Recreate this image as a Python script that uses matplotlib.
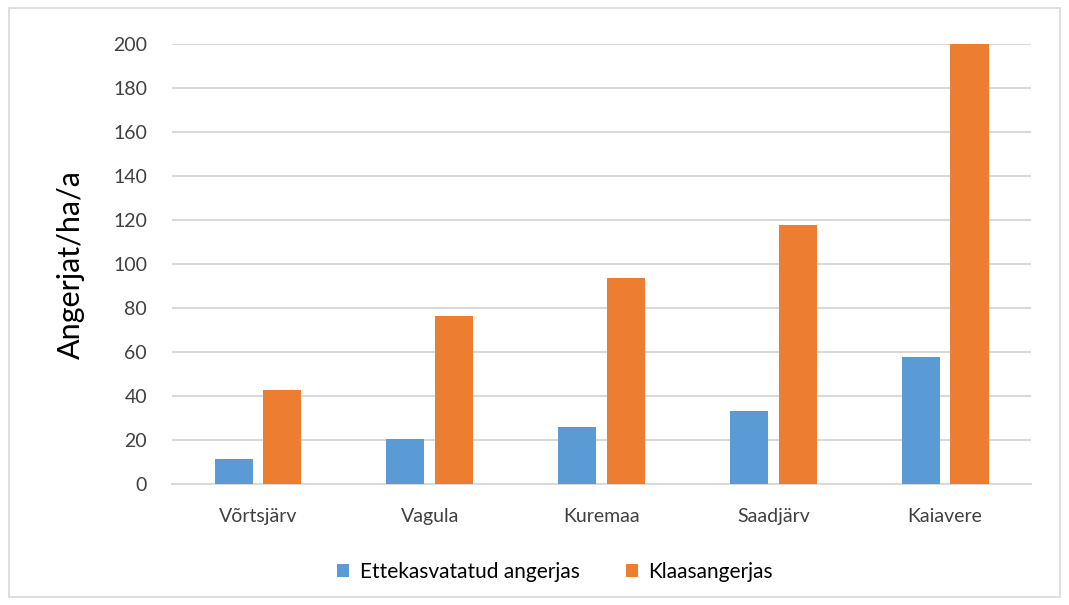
import numpy as np
import matplotlib.pyplot as plt
from matplotlib.patches import Rectangle

# data
lakes = ['Võrtsjärv', 'Vagula', 'Kuremaa', 'Saadjärv', 'Kaiavere']
ettekasvatatud = [11.5, 20.7, 26.2, 33.1, 58]
klaasangerjas = [43, 76.6, 93.8, 118, 200]
yticks = np.arange(0, 201, 20)

plt.rcParams['font.family'] = ['Lato', 'DejaVu Sans']

fig = plt.figure(figsize=(10.69, 6.05), dpi=100)
ax = fig.add_axes([0.161, 0.1995, 0.8035, 0.7273])

# outer chart border
fig.patches.append(Rectangle((9 / 1069, 8 / 605), 1051 / 1069, 589 / 605,
                             transform=fig.transFigure, fill=False,
                             edgecolor='#D9D9D9', linewidth=1.2))

x = np.arange(len(lakes))
w = 0.222
ax.bar(x - 0.142, ettekasvatatud, w, color='#5B9BD5', label='Ettekasvatatud angerjas', zorder=3)
ax.bar(x + 0.142, klaasangerjas, w, color='#ED7D31', label='Klaasangerjas', zorder=3)

ax.set_xlim(-0.5, len(lakes) - 0.5)
ax.set_ylim(0, 200)
ax.set_yticks(yticks)
ax.set_xticks(x)
ax.set_xticklabels(lakes)
ax.tick_params(axis='both', length=0, labelsize=14, colors='#404040')
ax.tick_params(axis='y', pad=18)
ax.tick_params(axis='x', pad=17)
ax.grid(axis='y', color='#D9D9D9', linewidth=1.5, zorder=0)
for s in ['top', 'right', 'left']:
    ax.spines[s].set_visible(False)
ax.spines['bottom'].set_color('#D9D9D9')
ax.spines['bottom'].set_linewidth(1.5)
for p in ax.patches:
    p.set_clip_on(False)

ax.set_ylabel('Angerjat/ha/a', fontsize=22, labelpad=20, color='black')

ax.legend(loc='center', bbox_to_anchor=(555 / 1069, 1 - 572 / 605),
          bbox_transform=fig.transFigure, ncol=2, frameon=False,
          fontsize=15, handlelength=0.6, handleheight=0.6,
          columnspacing=2.2, handletextpad=0.5)

fig.savefig('out.png', dpi=100)
